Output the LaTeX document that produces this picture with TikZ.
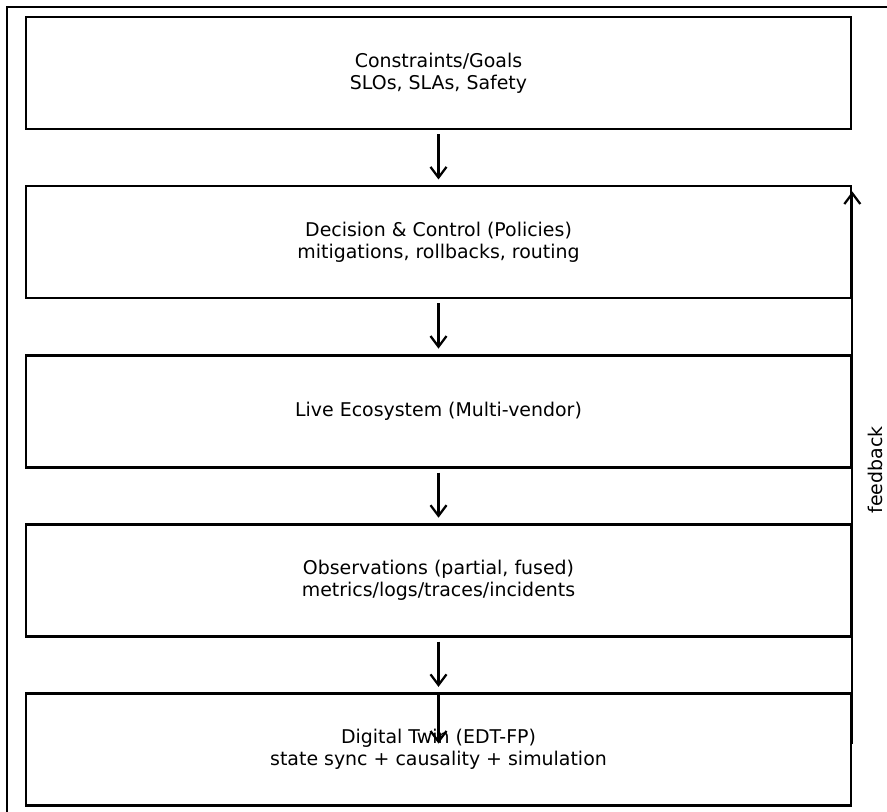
\documentclass[tikz,border=0pt]{standalone}
\usepackage{fontspec}
\setmainfont{DejaVu Sans}
\usetikzlibrary{positioning,arrows.meta}

\begin{document}
\begin{tikzpicture}[x=0.75pt, y=-0.75pt, node distance=40.85pt,
  every node/.style = {font=\fontsize{14.2pt}{16.5pt}\selectfont},
  stage/.style = {shape=rectangle, draw, line width=2pt, align=center,
    minimum width=618.75pt, minimum height=84pt, inner sep=0pt},
  flow/.style = {line width=1.7pt, -{Straight Barb[length=8pt, width=12pt, line width=1.7pt]}}]
  \useasboundingbox (0,0) rectangle (887,811);
  \clip (0,0) rectangle (887,811);
  % frame round the figure
  \draw[line width=1pt] (7,830) -- (7,7) -- (900,7);
  \node[stage] (goals) at (438.5,73) {Constraints/Goals\\SLOs, SLAs, Safety};
  \node[stage, below=of goals] (decision) {Decision \& Control (Policies)\\mitigations, rollbacks, routing};
  \node[stage, below=of decision] (live) {Live Ecosystem (Multi-vendor)};
  \node[stage, below=of live] (obs) {Observations (partial, fused)\\metrics/logs/traces/incidents};
  \node[stage, below=of obs] (twin) {Digital Twin (EDT-FP)\\state sync + causality + simulation};
  % downward flow
  \foreach \a/\b in {goals/decision, decision/live, live/obs, obs/twin}
    \draw[flow, shorten <=3pt, shorten >=4pt] (\a.south) -- (\b.north);
  \draw[flow] (twin.north) -- ([yshift=4.5pt]twin.center);
  % feedback loop
  \draw[flow, shorten >=5pt] ([yshift=4.5pt]twin.east) -- (decision.north east);
  \node[rotate=90, inner sep=0pt] (fb) at (875.5,470) {feedback};
\end{tikzpicture}
\end{document}
